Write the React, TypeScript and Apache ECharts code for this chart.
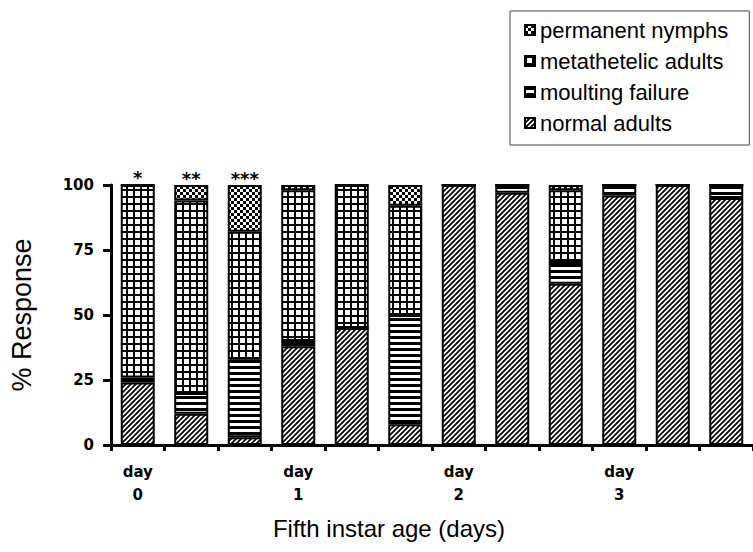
import React, { useEffect, useRef } from "react";
import * as echarts from "echarts";

const categories = ["0a", "0b", "0c", "1a", "1b", "1c", "2a", "2b", "2c", "3a", "3b", "3c"];
const tickLabels = ["day\n0", "", "", "day\n1", "", "", "day\n2", "", "", "day\n3", "", ""];
const stars = ["*", "**", "***", "", "", "", "", "", "", "", "", ""];

const normalAdults = [24, 12, 3, 38, 45, 8, 100, 97, 62, 96, 100, 95];
const moultingFailure = [2, 8, 30, 2, 0, 42, 0, 3, 8, 4, 0, 5];
const metathetelicAdults = [74, 74, 49, 58, 55, 42, 0, 0, 28, 0, 0, 0];
const permanentNymphs = [0, 6, 18, 2, 0, 8, 0, 0, 2, 0, 0, 0];

const yTicks = [0, 25, 50, 75, 100];

const FONT = "'Liberation Sans', Arial, Helvetica, sans-serif";
const BOLD_FONT = "'DejaVu Sans', 'Liberation Sans', Arial, sans-serif";

function svgUrl(w: number, h: number, body: string, crisp = true) {
  const s = `<svg xmlns="http://www.w3.org/2000/svg" width="${w}" height="${h}"${crisp ? ' shape-rendering="crispEdges"' : ""}>${body}</svg>`;
  return "data:image/svg+xml;charset=utf-8," + encodeURIComponent(s);
}

function pattern(url: string, w: number, h: number) {
  return { image: url, repeat: "repeat", imageWidth: w, imageHeight: h } as any;
}

const diagPattern = pattern(
  svgUrl(
    5,
    5,
    '<rect width="5" height="5" fill="#fff"/><path d="M0,5L5,0M-1,1L1,-1M4,6L6,4" stroke="#000" stroke-width="1.8"/>',
    false
  ),
  5,
  5
);
const horizPattern = pattern(
  svgUrl(6, 6, '<rect width="6" height="6" fill="#fff"/><rect width="6" height="3" fill="#000"/>'),
  6,
  6
);
const gridPattern = pattern(
  svgUrl(
    7,
    7,
    '<rect width="7" height="7" fill="#fff"/><rect width="7" height="1.7" fill="#000"/><rect width="1.7" height="7" fill="#000"/>'
  ),
  7,
  7
);
const checkPattern = pattern(
  svgUrl(
    6,
    6,
    '<rect width="6" height="6" fill="#fff"/><rect width="3" height="3" fill="#000"/><rect x="3" y="3" width="3" height="3" fill="#000"/>'
  ),
  6,
  6
);

export default function App() {
  const ref = useRef<HTMLDivElement>(null);

  useEffect(() => {
    document.body.style.margin = "0";
    if (!ref.current) return;
    const chart = echarts.init(ref.current, undefined, { renderer: "svg" });

    const barBase = {
      type: "bar" as const,
      stack: "total",
      barWidth: 34,
    };

    const option: any = {
      animation: false,
      backgroundColor: "#fff",
      textStyle: { fontFamily: FONT, color: "#000" },
      legend: {
        orient: "vertical",
        left: 510,
        top: 11,
        data: ["permanent nymphs", "metathetelic adults", "moulting failure", "normal adults"],
        icon: "rect",
        itemWidth: 10,
        itemHeight: 10,
        itemGap: 9,
        padding: [8, 21, 11, 14],
        borderColor: "#444",
        borderWidth: 1,
        selectedMode: false,
        textStyle: { fontSize: 22, color: "#000", fontFamily: FONT },
      },
      grid: { left: 100, top: 185, width: 658, height: 260, containLabel: false },
      xAxis: {
        type: "category",
        data: categories,
        boundaryGap: true,
        axisLine: { show: true, lineStyle: { color: "#000", width: 3 } },
        axisTick: { show: true, length: 6, lineStyle: { color: "#000", width: 3 }, interval: 0 },
        axisLabel: {
          interval: 0,
          formatter: (_v: string, i: number) => tickLabels[i],
          fontSize: 15,
          fontWeight: "bold",
          color: "#000",
          lineHeight: 23,
          margin: 15,
          fontFamily: BOLD_FONT,
        },
        name: "Fifth instar age (days)",
        nameLocation: "middle",
        nameGap: 71,
        nameTextStyle: { fontSize: 24, color: "#000", fontFamily: FONT, padding: [0, 86, 0, 0] },
      },
      yAxis: {
        type: "value",
        min: yTicks[0],
        max: yTicks[yTicks.length - 1],
        interval: 25,
        splitLine: { show: false },
        axisLine: { show: true, lineStyle: { color: "#000", width: 3 } },
        axisTick: { show: true, length: 8, lineStyle: { color: "#000", width: 3 } },
        axisLabel: {
          fontSize: 15,
          fontWeight: "bold",
          color: "#000",
          margin: 17,
          fontFamily: BOLD_FONT,
        },
        name: "% Response",
        nameLocation: "middle",
        nameGap: 76,
        nameTextStyle: { fontSize: 27, color: "#000", fontFamily: FONT },
      },
      series: [
        {
          ...barBase,
          name: "normal adults",
          data: normalAdults,
          itemStyle: { color: diagPattern, borderColor: "#000", borderWidth: 2 },
        },
        {
          ...barBase,
          name: "moulting failure",
          data: moultingFailure,
          itemStyle: { color: horizPattern, borderColor: "#000", borderWidth: 2 },
        },
        {
          ...barBase,
          name: "metathetelic adults",
          data: metathetelicAdults,
          itemStyle: { color: gridPattern, borderColor: "#000", borderWidth: 2 },
        },
        {
          ...barBase,
          name: "permanent nymphs",
          data: permanentNymphs,
          itemStyle: { color: checkPattern, borderColor: "#000", borderWidth: 2 },
          label: {
            show: true,
            position: "top",
            distance: -2,
            formatter: (p: any) => stars[p.dataIndex],
            fontSize: 18,
            fontWeight: "bold",
            color: "#000",
            fontFamily: BOLD_FONT,
          },
        },
      ],
    };

    chart.setOption(option);
    return () => chart.dispose();
  }, []);

  return <div ref={ref} style={{ width: 753, height: 552 }} />;
}
